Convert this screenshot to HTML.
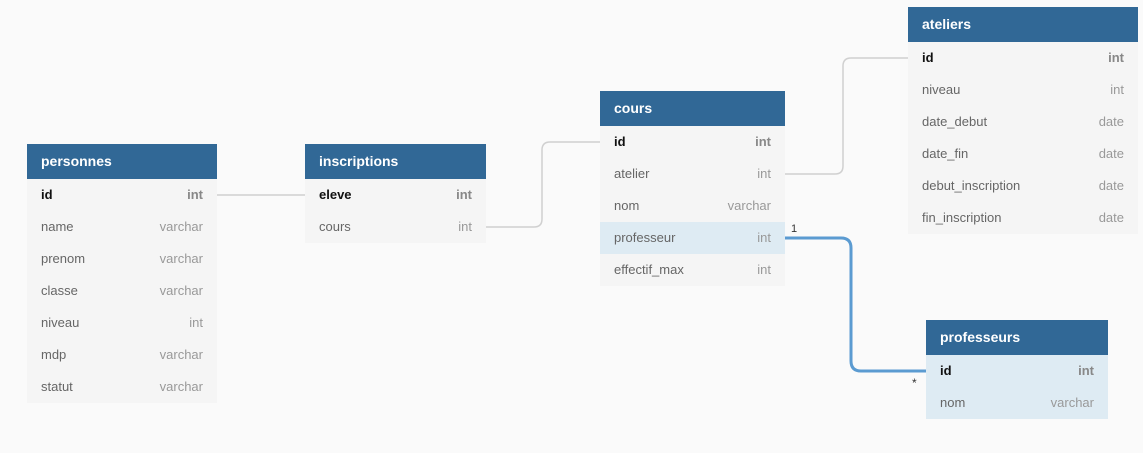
<!DOCTYPE html>
<html><head><style>
body{margin:0;width:1143px;height:453px;background:#fafafa;font-family:"Liberation Sans",sans-serif;position:relative;overflow:hidden}
.t{position:absolute;background:#f5f5f5}
.h{background:#316896;color:#fff;font-weight:bold;font-size:14px;height:35px;line-height:35px;padding-left:14px}
.r{height:32px;line-height:32px;font-size:13px;color:#666;padding:0 14px;display:flex;justify-content:space-between}
.r span:last-child{color:#999}
.k{font-weight:bold;color:#111}.k span:last-child{font-weight:bold;color:#888}
.hl{background:#deebf3}
svg{position:absolute;left:0;top:0}
</style></head><body>
<svg width="1143" height="453">
<g fill="none" stroke="#d0d0d0" stroke-width="1.5">
<path d="M217 195H305"/>
<path d="M486 227H534Q542 227 542 219V150Q542 142 550 142H600"/>
<path d="M785 174H835Q843 174 843 166V66Q843 58 851 58H908"/>
</g>
<path d="M785 238H841Q851 238 851 248V361Q851 371 861 371H926" fill="none" stroke="#5b9bd1" stroke-width="3"/>
<text x="791" y="232" font-size="11" font-family="Liberation Sans" fill="#333">1</text>
<text x="912" y="387" font-size="12" font-family="Liberation Sans" fill="#333">*</text>
</svg>
<div class="t" style="left:27px;top:144px;width:190px"><div class="h">personnes</div>
<div class="r k"><span>id</span><span>int</span></div><div class="r"><span>name</span><span>varchar</span></div><div class="r"><span>prenom</span><span>varchar</span></div><div class="r"><span>classe</span><span>varchar</span></div><div class="r"><span>niveau</span><span>int</span></div><div class="r"><span>mdp</span><span>varchar</span></div><div class="r"><span>statut</span><span>varchar</span></div></div>
<div class="t" style="left:305px;top:144px;width:181px"><div class="h">inscriptions</div>
<div class="r k"><span>eleve</span><span>int</span></div><div class="r"><span>cours</span><span>int</span></div></div>
<div class="t" style="left:600px;top:91px;width:185px"><div class="h">cours</div>
<div class="r k"><span>id</span><span>int</span></div><div class="r"><span>atelier</span><span>int</span></div><div class="r"><span>nom</span><span>varchar</span></div><div class="r hl"><span>professeur</span><span>int</span></div><div class="r"><span>effectif_max</span><span>int</span></div></div>
<div class="t" style="left:908px;top:7px;width:230px"><div class="h">ateliers</div>
<div class="r k"><span>id</span><span>int</span></div><div class="r"><span>niveau</span><span>int</span></div><div class="r"><span>date_debut</span><span>date</span></div><div class="r"><span>date_fin</span><span>date</span></div><div class="r"><span>debut_inscription</span><span>date</span></div><div class="r"><span>fin_inscription</span><span>date</span></div></div>
<div class="t" style="left:926px;top:320px;width:182px"><div class="h">professeurs</div>
<div class="r k hl"><span>id</span><span>int</span></div><div class="r hl"><span>nom</span><span>varchar</span></div></div>
</body></html>
